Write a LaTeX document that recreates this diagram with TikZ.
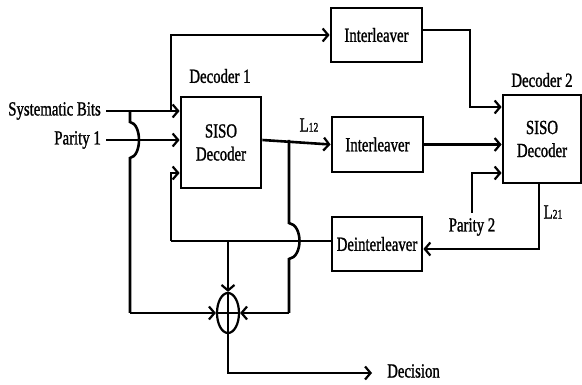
\documentclass[tikz,border=0pt]{standalone}
\usepackage{fontspec}
\setmainfont[FakeStretch=0.74,FakeBold=1.2]{Liberation Serif}
\usetikzlibrary{arrows.meta,shapes.geometric,calc}
\begin{document}
\begin{tikzpicture}[x=1pt,y=-1pt,
  wire/.style={line width=2.6pt},
  arr/.style={wire,-{Straight Barb[length=5.5pt,width=13pt,line width=2.2pt]}},
  blk/.style={draw,line width=2.8pt,minimum width=#1,align=center,inner sep=0pt},
  lbl/.style={font=\fontsize{20}{21}\selectfont,inner sep=0pt}]
\useasboundingbox (0,0) rectangle (582,385);

% blocks
\node[blk=80pt,minimum height=91pt,lbl] (dec1) at (221,142.5) {SISO\\[2pt]Decoder};
\node[blk=78pt,minimum height=88pt,lbl] (dec2) at (542,139) {SISO\\[2pt]Decoder};
\node[blk=91pt,minimum height=54pt,lbl] (il1) at (376.5,35) {Interleaver};
\node[blk=91pt,minimum height=55pt,lbl] (il2) at (377.5,144.5) {Interleaver};
\node[blk=90pt,minimum height=54pt,lbl] (deint) at (377,244) {Deinterleaver};
\node[draw,ellipse,line width=2.2pt,minimum width=22pt,minimum height=40pt,inner sep=0pt] (sum) at (228,313) {};

% labels
\node[lbl,anchor=east] (sysl) at (101,111) {Systematic Bits};
\node[lbl,anchor=east] (par1) at (101,140) {Parity 1};
\node[lbl] (d1l) at (220,76) {Decoder 1};
\node[lbl] (d2l) at (542,80) {Decoder 2};
\node[lbl] (l12) at (309,125) {L{\fontsize{13}{13}\selectfont 12}};
\node[lbl] (l21) at (553,212) {L{\fontsize{13}{13}\selectfont 21}};
\node[lbl] (par2) at (472,227) {Parity 2};
\node[lbl,anchor=west] (dec) at (387,371) {Decision};

% junction points
\coordinate (sysin) at (106,111);
\coordinate (parin) at (106,140);
\coordinate (jtop) at (171,111);
\coordinate (jsys) at (130,111);
\coordinate (jout) at (289,140);
\coordinate (c1) at (470,107);
\coordinate (p2) at (472,213);
\coordinate (p2t) at (472,173);
\coordinate (fb) at (171,241);
\coordinate (fbin) at (171,173);
\coordinate (jfb) at (228,241);
\coordinate (c2) at (539,249);
\coordinate (dout) at (228,373);
\coordinate (dend) at (372,373);

% inputs of decoder 1
\draw[arr] (sysin) -- (sysin -| dec1.west);
\draw[arr] (parin) -- (parin -| dec1.west);
\draw[arr] (jtop) -- (jtop |- il1.west) -- (il1.west);

% systematic branch to the adder, hopping over the parity line
\draw[wire] (jsys) -- (130,122) .. controls (142,124) and (142,156) .. (130,158)
  -- (130,313);
\draw[arr] (130,313) -- (sum.west);

% decoder 1 output
\draw[arr] (dec1.east |- jout) -- (il2.west);
\draw[wire] (jout) -- (289,223) .. controls (303,225) and (303,257) .. (289,259)
  -- (289,313);
\draw[arr] (289,313) -- (sum.east);

% interleavers into decoder 2
\draw[arr] ([yshift=5pt]il1.east) -| (c1) -- (c1 -| dec2.west);
\draw[arr] (il2.east) -- (il2.east -| dec2.west);
\draw[arr] (p2) -- (p2t) -- (p2t -| dec2.west);

% decoder 2 output through the deinterleaver
\draw[arr] ([xshift=-3pt]dec2.south) -- (c2) -- (c2 -| deint.east);
\draw[wire] (deint.west |- fb) -- (fb);
\draw[arr] (fb) -- (fbin) -- (fbin -| dec1.west);
\draw[arr] (jfb) -- (sum.north);

% adder cross and decision output
\draw[line width=1.8pt] (sum.north) -- (sum.south) (sum.west) -- (sum.east);
\draw[arr] (sum.south) -- (dout) -- (dend);
\end{tikzpicture}
\end{document}
